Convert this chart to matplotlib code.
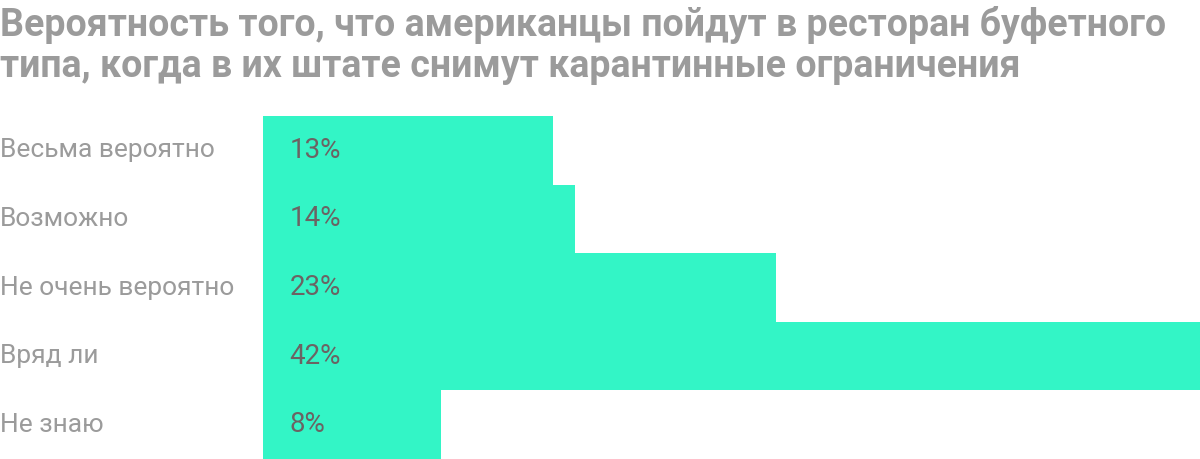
import matplotlib.pyplot as plt
from matplotlib.transforms import blended_transform_factory

categories = ['Весьма вероятно', 'Возможно', 'Не очень вероятно', 'Вряд ли', 'Не знаю']
values = [13, 14, 23, 42, 8]
title = 'Вероятность того, что американцы пойдут в ресторан буфетного\nтипа, когда в их штате снимут карантинные ограничения'

plt.rcParams['font.family'] = ['Roboto', 'DejaVu Sans']

fig = plt.figure(figsize=(12, 4.59), dpi=100)
ax = fig.add_axes([263 / 1200, 0, 937 / 1200, 343 / 459])

ypos = list(range(len(categories)))
ax.barh(ypos, values, height=1.0, color='#33f5c6', edgecolor='none')
ax.set_xlim(0, max(values))
ax.set_ylim(len(categories) - 0.5, -0.5)
ax.axis('off')

trans = blended_transform_factory(fig.transFigure, ax.transData)
for y, cat, v in zip(ypos, categories, values):
    ax.text(0, y, cat, transform=trans, ha='left', va='center',
            fontsize=19, color='#9b9b9b')
    ax.annotate(f'{v}%', xy=(0, y), xytext=(19, 0), textcoords='offset points',
                ha='left', va='center', fontsize=20, color='#6b6363')

fig.text(0, 1 - 6 / 459, title, ha='left', va='top', fontsize=27,
         fontweight='bold', color='#9b9b9b', linespacing=1.15)

fig.savefig('out.png', dpi=100)
